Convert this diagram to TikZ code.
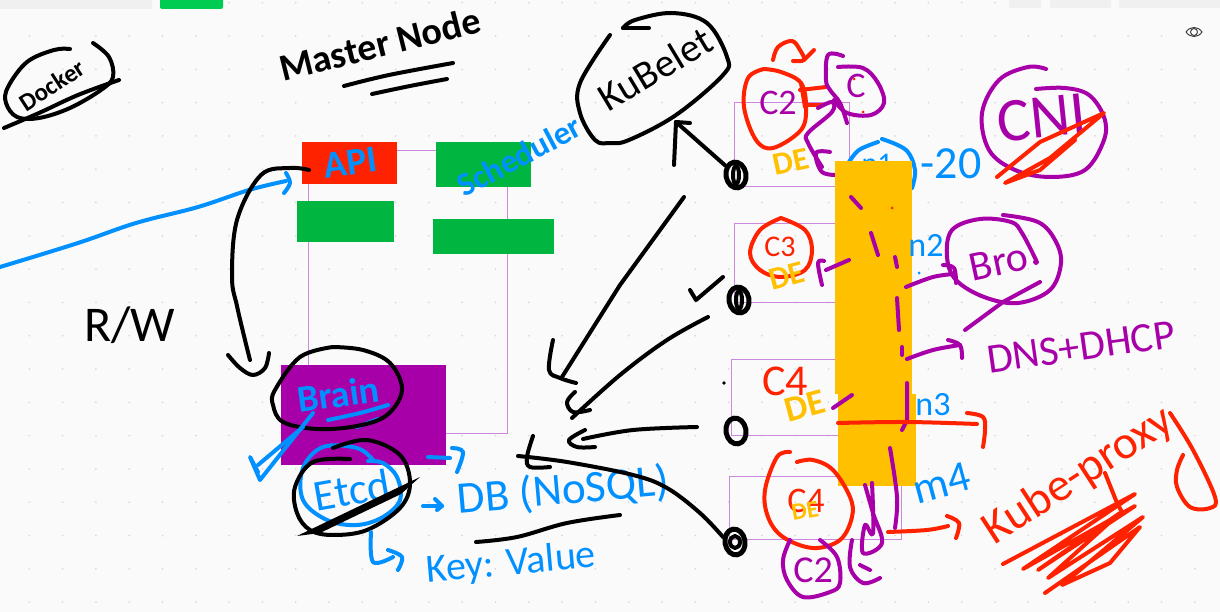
\documentclass[tikz,border=0pt]{standalone}
\usepackage{fontspec}
\setmainfont{Carlito}
\usetikzlibrary{shapes.geometric}

\definecolor{pagebg}{HTML}{FAFAFA}
\definecolor{griddot}{HTML}{DADADA}
\definecolor{inkblue}{HTML}{0090FF}
\definecolor{inkred}{HTML}{FF2200}
\definecolor{inkpurple}{HTML}{A800A8}
\definecolor{inkorange}{HTML}{FFC000}
\definecolor{boxgreen}{HTML}{00B640}
\definecolor{boxline}{HTML}{CC88DD}

\tikzset{
  ink/.style={line width=#1,line cap=round,line join=round},
  ink/.default=4,
  blackink/.style={ink,black},
  blueink/.style={ink,inkblue},
  redink/.style={ink,inkred},
  purpleink/.style={ink,inkpurple},
  hand/.style={inner sep=0pt,font=\fontsize{#1}{#1}\selectfont},
  handbold/.style={inner sep=0pt,font=\fontsize{#1}{#1}\selectfont\bfseries},
  podnode/.style={draw,ellipse,ink=5,black,minimum width=20pt,minimum height=26pt,inner sep=0pt,rotate=10},
  thinbox/.style={draw=boxline,line width=1}
}
\newcommand{\scrawl}[2]{\draw[#1] plot[smooth,tension=0.6] coordinates {#2};}

\begin{document}
\begin{tikzpicture}[x=1pt,y=-1pt]
\useasboundingbox (0,0) rectangle (1220,612);
\fill[pagebg] (0,0) rectangle (1220,612);
\foreach \i in {0,...,35}
  \foreach \j in {0,...,18}
    \fill[griddot] (29.3+33.3*\i,2.7+33.3*\j) circle (1);

% top bar
\fill[rounded corners=2,black!6] (-5,-5) rectangle (152,9);
\fill[rounded corners=2,green!60!cyan!80!black] (160,-5) rectangle (223,9);
\fill[rounded corners=2,black!6] (1009,-5) rectangle (1041,8);
\fill[rounded corners=2,black!6] (1050,-5) rectangle (1111,8);
\fill[rounded corners=2,black!6] (1119,-5) rectangle (1225,8);
% eye
\draw[line width=1,black!75] (1186,32) .. controls (1190,26) and (1198,26) .. (1202,32) .. controls (1198,38) and (1190,38) .. (1186,32);
\draw[line width=1,black!75] (1194,32) circle (3.5);

% docker
\scrawl{blackink}{(70,49) (54,50) (27,62) (8,87) (6,103) (17,117) (39,118) (70,108) (101,90) (113,77) (109,57) (93,43)}
\scrawl{blackink}{(4,128) (39,113) (78,95) (119,80)}
\draw node[handbold=25,rotate=33] (docker) at (52,85) {Docker};

% master node
\draw node[handbold=38,rotate=14] (mastertitle) at (380,44) {Master Node};
\scrawl{blackink}{(344,86) (389,75) (453,63)}
\scrawl{blackink}{(372,94) (410,86) (447,79)}

% master boxes
\draw[thinbox] (308,151) rectangle (507,433);
\fill[inkred] (302,142) rectangle (397,184);
\fill[boxgreen] (436,142) rectangle (531,187);
\fill[boxgreen] (297,201) rectangle (394,242);
\fill[boxgreen] (433,219) rectangle (554,254);
\fill[inkpurple] (281,365) rectangle (446,465);
\draw node[handbold=38,inkblue,rotate=8] (apilabel) at (350,163) {API};
\draw node[handbold=33,inkblue,rotate=28] (schedlabel) at (519,156) {Scheduler};

% R/W arrows
\scrawl{blueink}{(0,267) (78,243) (136,223) (198,207) (249,190) (286,181)}
\scrawl{blueink}{(286,173) (290,183) (284,193)}
\scrawl{blackink}{(309,170) (290,168) (261,175) (237,220) (232,277) (237,306) (245,340) (250,360)}
\scrawl{blackink}{(228,355) (240,368) (253,375) (265,368) (269,353)}
\draw node[hand=50] (rwlabel) at (130,325) {R/W};

% brain
\draw node[handbold=38,inkblue,rotate=8] (brainlabel) at (338,394) {Brain};
\scrawl{blueink}{(328,420) (360,413) (388,405)}
\scrawl{blueink}{(357,427) (378,419)}
\scrawl{blackink}{(333,347) (300,357) (275,390) (273,405) (283,422) (317,429) (357,426) (387,415) (402,390) (390,363) (363,350) (333,347)}
\draw[blueink] (313,413) -- (260,480) -- (250,457) -- (258,472);
\draw[blueink] (258,465) -- (303,427);

% etcd
\scrawl{blueink}{(373,460) (357,448) (323,447) (303,468) (303,500) (327,520) (357,525) (383,517) (400,500) (397,477) (383,463) (368,461)}
\draw node[hand=44,inkblue,rotate=10] (etcdlabel) at (352,490) {Etcd};
\scrawl{blackink}{(350,459) (313,462) (295,487) (297,513) (310,530) (333,535) (367,530) (400,508) (410,483) (400,455) (367,440) (333,448)}
\fill[black] (297,536) -- (420,477) -- (401,494) -- (320,533) -- cycle;

% db
\scrawl{blueink}{(428,457) (450,458)}
\scrawl{blueink}{(452,448) (463,452) (457,472)}
\scrawl{blueink}{(423,506) (442,506)}
\draw[blueink] (435,499) -- (442,506) -- (437,510);
\draw node[hand=45,inkblue,rotate=5] (dblabel) at (563,491) {DB (NoSQL)};
\scrawl{blackink}{(476,542) (517,537) (567,523) (620,515)}
\scrawl{blueink}{(371,532) (373,562) (393,557)}
\scrawl{blueink}{(388,550) (402,557) (398,570)}
\draw node[hand=40,inkblue,rotate=5] (keylabel) at (511,564) {Key: Value};

% kubelet
\scrawl{blackink}{(610,35) (580,83) (580,113) (595,140) (610,143) (629,140) (676,115) (723,75) (727,57) (707,23) (672,13) (635,20) (623,28)}
\scrawl{blackink}{(623,28) (649,28)}
\draw node[hand=40,rotate=31] (kubeletlabel) at (655,69) {KuBelet};

% workers
\draw[thinbox] (734,103) rectangle (849,187);
\draw[thinbox] (734,224) rectangle (840,302);
\draw[thinbox] (731,359) rectangle (840,435);
\draw[thinbox] (729,476) rectangle (901,539);

% pods
\draw node[podnode] (podone) at (736,175) {};
\draw node[podnode] (podtwo) at (739,300) {};
\draw node[podnode] (podthree) at (736,431) {};
\draw node[podnode] (podfour) at (735,542) {};
\foreach \p in {podone,podtwo}
  \draw[blackink] (\p) ellipse (3 and 9);
\draw[blackink] (podfour) ellipse (5 and 6);
\coordinate (kubelettip) at (676,122);
\coordinate (masterendone) at (562,377);
\coordinate (masterendtwo) at (572,418);
\coordinate (masterendthree) at (583,439);
\coordinate (masterendfour) at (518,456);
\draw[blackink] (podone) -- (kubelettip);
\draw[blackink] (674,165) -- (kubelettip) -- (690,123);
\draw[blackink] (684,197) -- (620,285) -- (masterendone);
\scrawl{blackink}{(553,340) (549,370) (560,378) (576,383)}
\scrawl{blackink}{(708,317) (667,340) (620,375) (572,418)}
\scrawl{blackink}{(575,392) (567,402) (573,412) (590,410)}
\scrawl{blackink}{(697,427) (633,430) (583,439)}
\scrawl{blackink}{(585,430) (569,440) (577,447) (595,447)}
\scrawl{blackink}{(723,537) (700,513) (667,488) (633,475) (567,462) (518,456)}
\scrawl{blackink}{(533,436) (527,457) (530,467) (550,467)}
\draw[blackink] (690,290) -- (696,300) -- (723,277);
\fill[black] (724,383) circle (1.8);

% worker 1
\draw node[hand=30,inkblue] (nonelabel) at (877,164) {n1};
\scrawl{blueink}{(849,162) (859,150) (878,142)}
\scrawl{blueink}{(882,139) (906,150) (915,170) (912,188)}
\scrawl{redink}{(764,69) (748,78) (744,107) (756,140) (773,148) (801,130) (806,107) (801,83) (781,72) (764,69)}
\draw node[hand=36,inkpurple] (ctwotop) at (778,103) {C2};
\draw node[handbold=32,inkorange,rotate=12] (deone) at (791,162) {DE};
\scrawl{redink}{(773,60) (778,47) (792,41) (800,50) (804,60) (793,61)}
\scrawl{redink}{(804,60) (814,50)}
\draw[redink] (800,90) -- (826,87);
\draw[redink] (805,105) -- (822,105);
\draw[redink] (801,83) -- (805,107);
\draw node[hand=36,inkpurple] (cone) at (856,86) {C};
\scrawl{purpleink}{(843,56) (828,55) (826,80) (830,90) (840,103) (847,123)}
\scrawl{purpleink}{(838,67) (863,68) (878,83) (884,103) (871,115) (847,113) (834,100)}
\fill[inkred] (854,79) circle (1.5) (863,112) circle (1.5);
\scrawl{purpleink}{(818,108) (832,102) (832,112) (808,133) (808,143) (822,167)}
\scrawl{purpleink}{(830,152) (816,153) (822,172) (840,175)}

% orange bar
\fill[inkorange] (835,161) rectangle (912,394);
\fill[inkorange] (838,394) rectangle (916,486);
\draw[purpleink] (851,197) -- (861,208);
\fill[inkred] (892,208) circle (1.5);
\draw[purpleink] (871,233) -- (878,255);
\draw[purpleink] (895,257) -- (897,267);
\draw[purpleink] (897,298) -- (899,330);
\draw[purpleink] (902,347) -- (902,355);

% after the bar
\draw node[hand=46,inkblue] (twentylabel) at (951,164) {-20};
\scrawl{purpleink}{(1046,69) (1028,67) (999,80) (982,113) (989,150) (1015,170) (1050,177) (1085,170) (1104,140) (1104,117) (1089,95) (1065,88) (1036,89)}
\draw node[hand=62,inkpurple,rotate=6] (cnilabel) at (1042,118) {CNI};
\draw[redink] (997,177) -- (1040,142) -- (1104,113) -- (1050,158) -- (1005,183) -- (1040,170) -- (1075,140);

% worker 2
\scrawl{redink}{(781,218) (805,230) (812,250) (805,270) (781,277) (760,270) (750,253) (760,230) (781,218)}
\draw node[hand=30,inkred] (cthree) at (780,247) {C3};
\draw node[handbold=32,inkorange,rotate=15] (detwo) at (787,276) {DE};
\scrawl{purpleink}{(822,285) (818,263) (824,261)}
\draw[purpleink] (826,270) -- (849,260);
\draw node[hand=34,inkblue] (ntwolabel) at (926,245) {n2};
\fill[inkblue] (919,273) circle (1.5);
\scrawl{purpleink}{(906,287) (933,277) (954,274)}
\scrawl{purpleink}{(943,265) (954,268) (956,283)}
\scrawl{purpleink}{(1003,215) (1038,222) (1055,240) (1061,263) (1050,290) (1018,303) (984,297) (956,280) (947,257) (952,230) (980,219) (1011,222) (1022,233) (1036,260)}
\draw node[hand=42,inkpurple,rotate=12] (brolabel) at (999,262) {Bro};
\draw[purpleink] (1036,262) circle (1);
\draw[purpleink] (1040,282) -- (1003,302) -- (965,330);
\draw node[hand=42,inkpurple,rotate=8] (dnslabel) at (1081,347) {DNS+DHCP};

% worker 3
\draw node[hand=44,inkred] (cfour) at (785,381) {C4};
\draw node[handbold=36,inkorange,rotate=15] (dethree) at (805,406) {DE};
\draw[purpleink] (833,408) -- (852,395);
\draw[purpleink] (907,383) -- (907,420) -- (902,430);
\draw node[hand=34,inkblue] (nthreelabel) at (933,405) {n3};
\scrawl{redink}{(838,423) (907,422) (977,424)}
\scrawl{redink}{(967,413) (983,417) (985,430) (983,447)}
\scrawl{purpleink}{(907,359) (933,350) (960,345)}
\scrawl{purpleink}{(948,340) (960,345) (962,358)}

% worker 4
\scrawl{redink}{(790,452) (777,457) (765,490) (768,517) (783,537) (813,548) (840,540) (852,517) (850,497) (833,470) (813,460) (797,462)}
\draw node[hand=36,inkred] (cfive) at (806,501) {C4};
\draw node[handbold=24,inkorange,rotate=10] (defour) at (805,511) {DE};
\scrawl{purpleink}{(790,540) (783,560) (787,580) (803,597) (830,592) (840,583) (837,557) (820,540)}
\draw node[hand=38,inkpurple] (ctwobottom) at (813,570) {C2};
\scrawl{purpleink}{(852,540) (850,567) (863,583) (880,578)}
\draw[purpleink] (860,565) -- (870,570);
\scrawl{purpleink}{(865,485) (873,513) (882,543) (863,553) (865,525) (873,533) (872,483)}
\scrawl{purpleink}{(890,448) (897,497) (895,528)}
\scrawl{redink}{(888,532) (927,530) (948,526)}
\scrawl{redink}{(947,516) (959,523) (956,538)}
\draw node[hand=44,inkblue,rotate=15] (mfourlabel) at (942,483) {m4};

% kube-proxy
\draw node[hand=47,inkred,rotate=33] (proxylabel) at (1079,476) {Kube-proxy};
\scrawl{redink}{(1170,413) (1193,450) (1215,497) (1210,508) (1190,507) (1177,487) (1177,470) (1183,455)}
\draw[redink] (1105,473) -- (1117,503) -- (1122,512);
\draw[redink] (1003,564) -- (1135,494) -- (1023,569) -- (1135,506) -- (1038,570) -- (1120,513) -- (1048,578) -- (1143,517) -- (1062,585) -- (1110,563) -- (1140,527) -- (1045,593);
\end{tikzpicture}
\end{document}
